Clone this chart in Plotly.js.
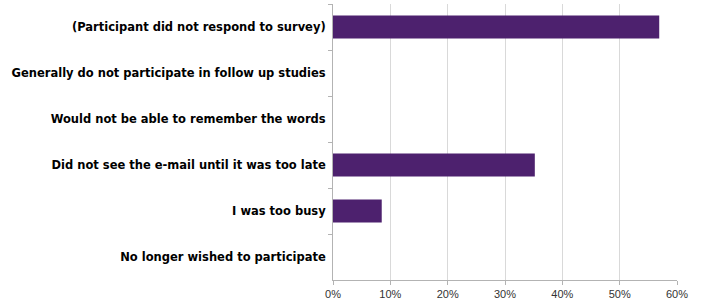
<!DOCTYPE html>
<html>
<head>
<meta charset="utf-8">
<script src="https://cdn.plot.ly/plotly-3.0.1.min.js"></script>
<style>html,body{margin:0;padding:0;background:#fff;}#chart{width:701px;height:307px;}</style>
</head>
<body>
<div id="chart"></div>
<script>
const categories = [
  "(Participant did not respond to survey)",
  "Generally do not participate in follow up studies",
  "Would not be able to remember the words",
  "Did not see the e-mail until it was too late",
  "I was too busy",
  "No longer wished to participate"
];
const percentages = [56.9, 0, 0, 35.2, 8.5, 0];
const xTickValues = [0, 10, 20, 30, 40, 50, 60];
const xTickLabels = ["0%", "10%", "20%", "30%", "40%", "50%", "60%"];

Plotly.newPlot("chart", [{
  type: "bar",
  orientation: "h",
  y: categories,
  x: percentages,
  marker: {color: "#4d216e", line: {width: 0}},
  hoverinfo: "x+y"
}], {
  width: 701, height: 307,
  margin: {l: 333, r: 24, t: 4, b: 27, pad: 0},
  paper_bgcolor: "#fff", plot_bgcolor: "#fff",
  bargap: 0.5,
  showlegend: false,
  xaxis: {
    range: [0, 60], tickvals: xTickValues, ticktext: xTickLabels,
    showgrid: true, gridcolor: "#d9d9d9", gridwidth: 1,
    showline: true, linecolor: "#b3b3b3", linewidth: 1,
    ticks: "outside", ticklen: 4, tickcolor: "#b3b3b3",
    zeroline: false, fixedrange: true,
    tickfont: {family: "Liberation Sans, Arial, sans-serif", size: 11, color: "#333333"}
  },
  yaxis: {
    type: "category", autorange: "reversed",
    showgrid: false, showline: true, linecolor: "#b3b3b3", linewidth: 1,
    ticks: "outside", tickson: "boundaries", ticklen: 4, tickcolor: "#b3b3b3", tickwidth: 1,
    ticklabelstandoff: 4,
    tickfont: {family: "DejaVu Sans, sans-serif", size: 11.5, color: "#000000", weight: "bold"},
    fixedrange: true
  }
}, {displayModeBar: false, staticPlot: true});
</script>
</body>
</html>
